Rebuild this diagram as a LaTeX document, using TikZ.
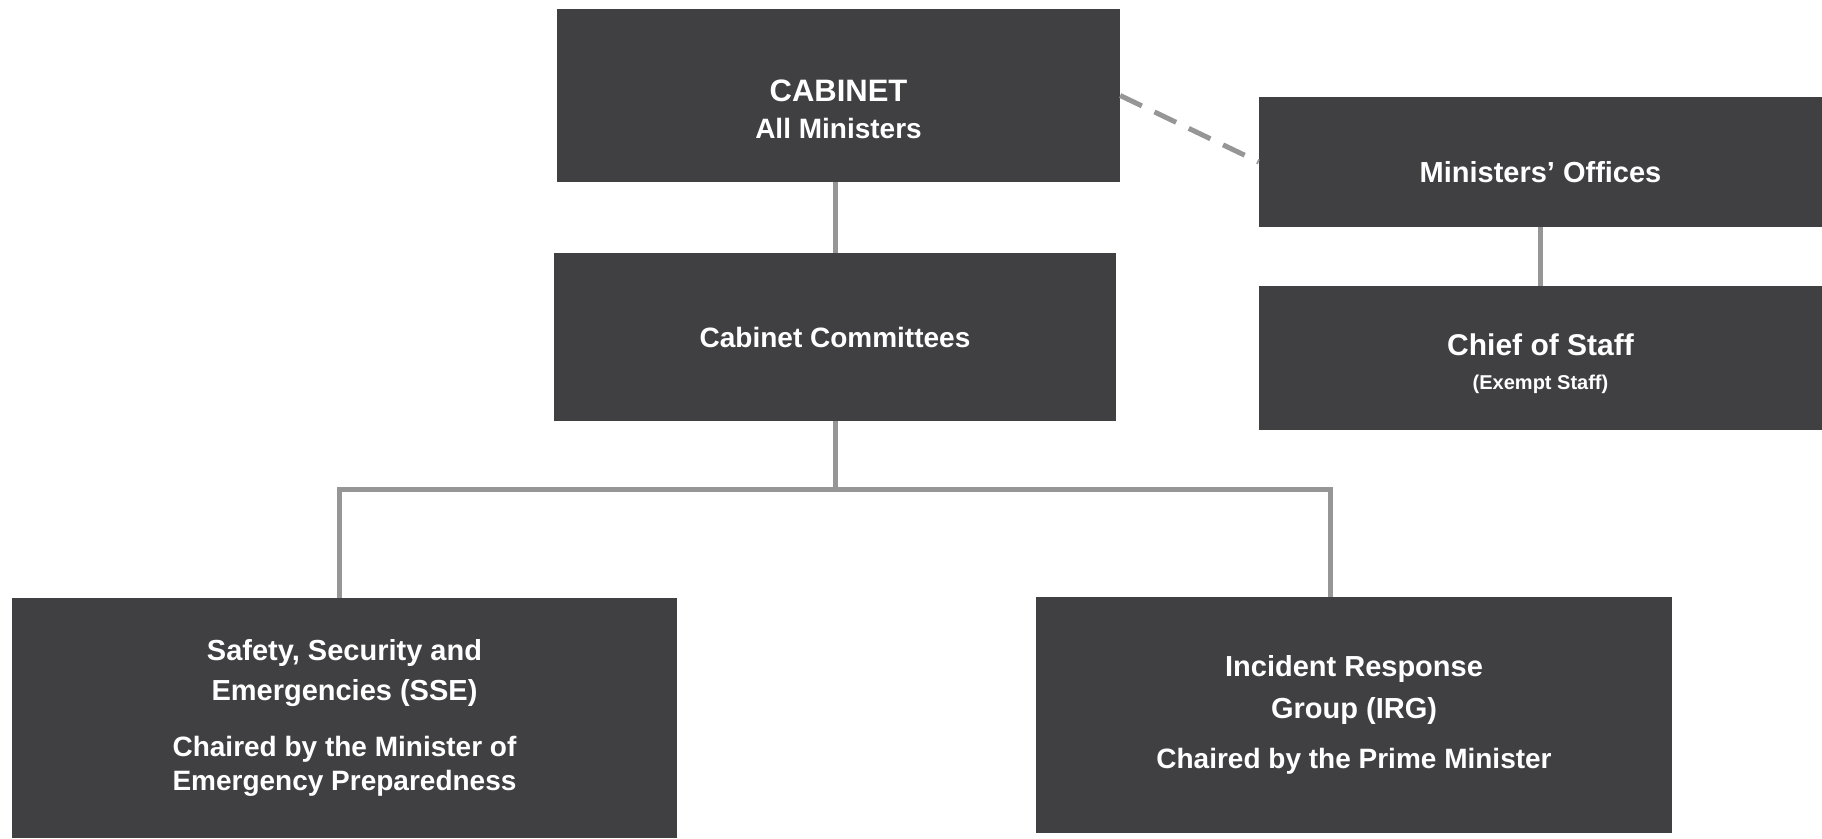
\documentclass[tikz,border=0pt]{standalone}
\usepackage{fontspec}
\setmainfont{Liberation Sans}
\usetikzlibrary{calc}

\definecolor{boxgray}{RGB}{64,64,66}
\definecolor{linegray}{RGB}{150,150,150}

\tikzset{
  orgbox/.style={fill=boxgray, text=white, align=center,
    inner sep=0pt, anchor=center},
  link/.style={linegray, line width=5pt},
  dashlink/.style={link, dash pattern=on 24pt off 14pt}
}

\begin{document}
\begin{tikzpicture}[x=1pt,y=-1pt]

\useasboundingbox (0,0) rectangle (1822,838);

% top row
\node[orgbox, minimum width=563pt, minimum height=173pt,
  font=\bfseries\fontsize{28}{37}\selectfont] (cabinet) at (838.5,95.5)
  {\rule{0pt}{50pt}{\fontsize{31}{37}\selectfont CABINET}\\All Ministers};
\node[orgbox, minimum width=563pt, minimum height=130pt,
  font=\bfseries\fontsize{29}{34}\selectfont] (offices) at (1540.5,162)
  {\rule{0pt}{41pt}Ministers’ Offices};
\node[orgbox, minimum width=563pt, minimum height=144pt,
  font=\bfseries\fontsize{30}{34}\selectfont] (chief) at (1540.5,358)
  {\rule{0pt}{34pt}Chief of Staff\\{\fontsize{20}{34}\selectfont (Exempt Staff)}};
\node[orgbox, minimum width=562pt, minimum height=168pt,
  font=\bfseries\fontsize{28}{34}\selectfont] (committees) at (835,337)
  {Cabinet Committees};

% committees
\node[orgbox, minimum width=665pt, minimum height=240pt,
  font=\bfseries\fontsize{29}{40}\selectfont] (sse) at (344.5,718)
  {Safety, Security and\\Emergencies (SSE)\\[16pt]
   {\fontsize{28}{34}\selectfont Chaired by the Minister of}\\[-6pt]
   {\fontsize{28}{34}\selectfont Emergency Preparedness}};
\node[orgbox, minimum width=636pt, minimum height=236pt,
  font=\bfseries\fontsize{29}{42}\selectfont] (irg) at (1354,715)
  {Incident Response\\Group (IRG)\\[8pt]
   {\fontsize{28}{34}\selectfont Chaired by the Prime Minister}};

\coordinate (bus) at (835,489);

\draw[link] (committees.north) -- (committees.north |- cabinet.south);
\draw[link] (committees.south) -- (bus);
\draw[link] ([xshift=-5pt]sse.north) |- (bus) -| ([xshift=-24pt]irg.north);
\draw[link] (offices.south) -- (chief.north);
\draw[dashlink] (cabinet.east) -- (offices.west);

\end{tikzpicture}
\end{document}
